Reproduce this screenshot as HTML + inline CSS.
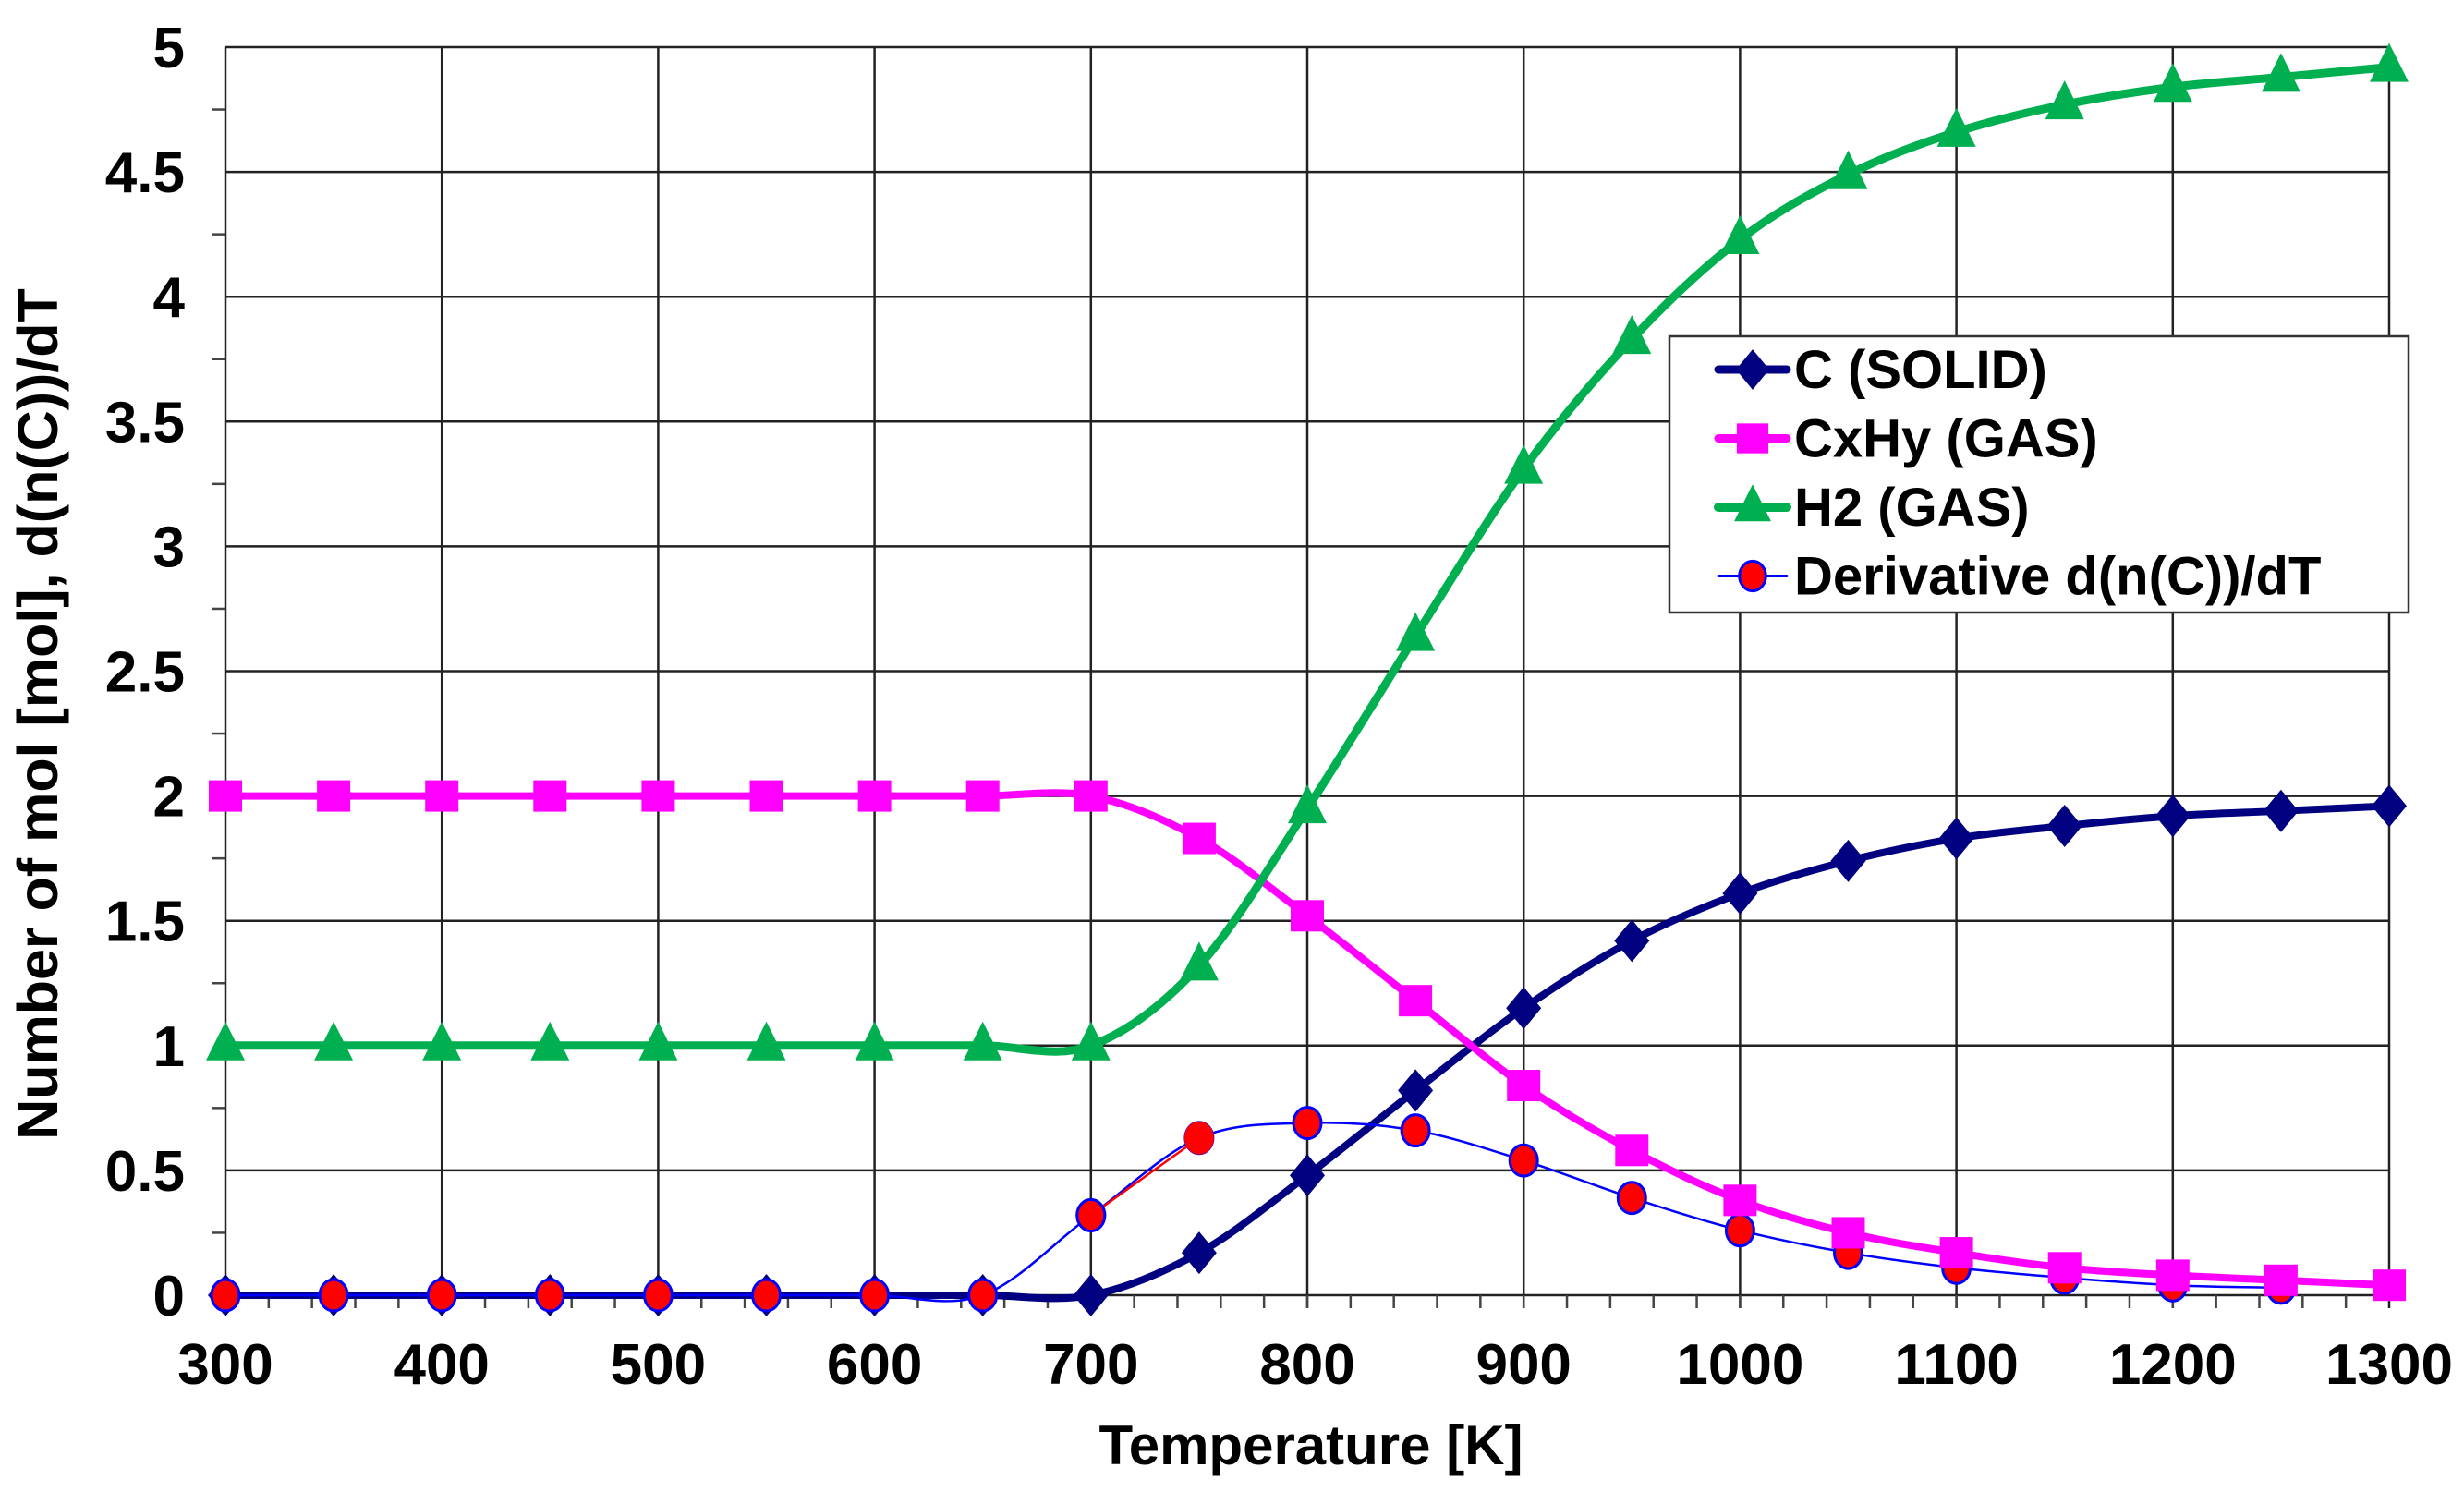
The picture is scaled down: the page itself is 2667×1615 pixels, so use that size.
<!DOCTYPE html>
<html><head><meta charset="utf-8"><style>
html,body{margin:0;padding:0;background:#fff}
svg{display:block}
text{font-family:"Liberation Sans",Arial,sans-serif;font-weight:bold;fill:#000}
</style></head><body>
<svg id="chart" width="2667" height="1615" viewBox="0 0 2667 1615" xmlns="http://www.w3.org/2000/svg">
<g id="grid"></g>
<g id="axes"></g>
<g id="series"></g>
<text x="1419" y="1585" font-size="60" text-anchor="middle">Temperature [K]</text>
<text transform="translate(62,773) rotate(-90)" font-size="61" text-anchor="middle">Number of mol [mol], d(n(C))/dT</text>
<g id="legend"></g>
</svg>
<script>
const temps = [300,350,400,450,500,550,600,650,700,750,800,850,900,950,1000,1050,1100,1150,1200,1250,1300];
const cSolid = [0,0,0,0,0,0,0,0,0,0.17,0.48,0.82,1.15,1.42,1.61,1.74,1.83,1.88,1.92,1.94,1.96];
const cxhy = [2,2,2,2,2,2,2,2,2.0,1.83,1.52,1.18,0.84,0.58,0.38,0.25,0.17,0.11,0.08,0.06,0.04];
const h2 = [1,1,1,1,1,1,1,1,1.0,1.32,1.95,2.64,3.31,3.83,4.23,4.49,4.66,4.77,4.84,4.88,4.92];
const deriv = [0,0,0,0,0,0,0,0,0.32,0.63,0.69,0.66,0.54,0.39,0.26,0.17,0.11,0.07,0.04,0.03];
const xTicks = [300,400,500,600,700,800,900,1000,1100,1200,1300];
const yTicks = [0,0.5,1,1.5,2,2.5,3,3.5,4,4.5,5];
const yTickLabels = ["0","0.5","1","1.5","2","2.5","3","3.5","4","4.5","5"];

const L=244,R=2586,T=51,B=1402;
const X=v=>L+(v-300)/1000*(R-L);
const Y=v=>B-v/5*(B-T);
const NS='http://www.w3.org/2000/svg';
function mk(tag,attrs,parent){const e=document.createElementNS(NS,tag);for(const k in attrs)e.setAttribute(k,attrs[k]);parent.appendChild(e);return e;}
const grid=document.getElementById('grid'),axes=document.getElementById('axes'),ser=document.getElementById('series'),leg=document.getElementById('legend');

yTicks.forEach((t,i)=>{
  const l=mk('line',{x1:L,x2:R,y1:Y(t),y2:Y(t),stroke:'#222','stroke-width':2.5},grid);
  
  
  const tx=mk('text',{x:200,y:Y(t)+22,'font-size':62,'text-anchor':'end'},axes);
  tx.textContent=yTickLabels[i];
  
  
});
for(let v=0.25;v<5;v+=0.5){
  const m=mk('line',{x1:L-14,x2:L,y1:Y(v),y2:Y(v),stroke:'#444','stroke-width':2.5},axes);
  
  
}
xTicks.forEach(t=>{
  const l=mk('line',{x1:X(t),x2:X(t),y1:T,y2:B+14,stroke:'#222','stroke-width':2.5},grid);
  
  
  const tx=mk('text',{x:X(t),y:1498,'font-size':62,'text-anchor':'middle'},axes);
  tx.textContent=t;
  
  
});
for(let v=320;v<1300;v+=20){
  const m=mk('line',{x1:X(v),x2:X(v),y1:B,y2:B+14,stroke:'#444','stroke-width':2.5},axes);
  
  
}

function smooth(pts){
  let d='M'+pts[0][0]+','+pts[0][1];
  for(let i=0;i<pts.length-1;i++){
    const p0=pts[Math.max(0,i-1)],p1=pts[i],p2=pts[i+1],p3=pts[Math.min(pts.length-1,i+2)];
    const t=0.5/3;
    d+=' C'+(p1[0]+(p2[0]-p0[0])*t)+','+(p1[1]+(p2[1]-p0[1])*t)+' '+(p2[0]-(p3[0]-p1[0])*t)+','+(p2[1]-(p3[1]-p1[1])*t)+' '+p2[0]+','+p2[1];
  }
  return d;
}
function marker(type,x,y,g,scale){
  const s=scale||1;let e;
  if(type==='diamond') e=mk('polygon',{points:`${x},${y-23*s} ${x+19*s},${y} ${x},${y+23*s} ${x-19*s},${y}`,fill:'#000080'},g);
  else if(type==='square') e=mk('rect',{x:x-18*s,y:y-17*s,width:36*s,height:34*s,fill:'#ff00ff'},g);
  else if(type==='triangle') e=mk('polygon',{points:`${x},${y-26*s} ${x+21*s},${y+16*s} ${x-21*s},${y+16*s}`,fill:'#00b050'},g);
  else e=mk('ellipse',{cx:x,cy:y,rx:15*s,ry:17*s,fill:'#ff0000',stroke:'#0000ff','stroke-width':3},g);
  return e;
}
function drawSeries(name,vals,color,w,type){
  const g=mk('g',{},ser);
  
  
  const pts=vals.map((v,i)=>[X(temps[i]),Y(v)]);
  const p=mk('path',{d:smooth(pts),fill:'none',stroke:color,'stroke-width':w,'stroke-linejoin':'round'},g);
  
  
  pts.forEach(q=>{
    const m=marker(type,q[0],q[1],g);
    
    
  });
  return g;
}
drawSeries('c-solid-series',cSolid,'#000080',8,'diamond');
drawSeries('derivative-series',deriv,'#0000ff',2.5,'circle');
(function(){
  const r=mk('line',{x1:X(temps[8]),y1:Y(deriv[8]),x2:X(temps[9]),y2:Y(deriv[9]),stroke:'#ff0000','stroke-width':2.5},ser);
  
  
  const m=marker('circle',X(temps[8]),Y(deriv[8]),ser);
  const m2=mk('ellipse',{cx:X(temps[9]),cy:Y(deriv[9]),rx:16,ry:18,fill:'#ff0000'},ser);
  
  
})();
drawSeries('cxhy-series',cxhy,'#ff00ff',8,'square');
drawSeries('h2-series',h2,'#00b050',9,'triangle');

const lb=mk('rect',{x:1807,y:364,width:800,height:299,fill:'#fff',stroke:'#333','stroke-width':2.5},leg);


const entries=[['C (SOLID)','#000080',9,'diamond'],['CxHy (GAS)','#ff00ff',9,'square'],['H2 (GAS)','#00b050',10,'triangle'],['Derivative d(n(C))/dT','#0000ff',3,'circle']];
entries.forEach((e,i)=>{
  const y=400+i*74.5;
  const g=mk('g',{},leg);
  
  
  mk('line',{x1:1860,x2:1934,y1:y,y2:y,stroke:e[1],'stroke-width':e[2],'stroke-linecap':'round'},g);
  marker(e[3],1897,y,g,0.95);
  const t=mk('text',{x:1942,y:y+20,'font-size':58},g);
  t.textContent=e[0];
});
</script>
</body></html>
